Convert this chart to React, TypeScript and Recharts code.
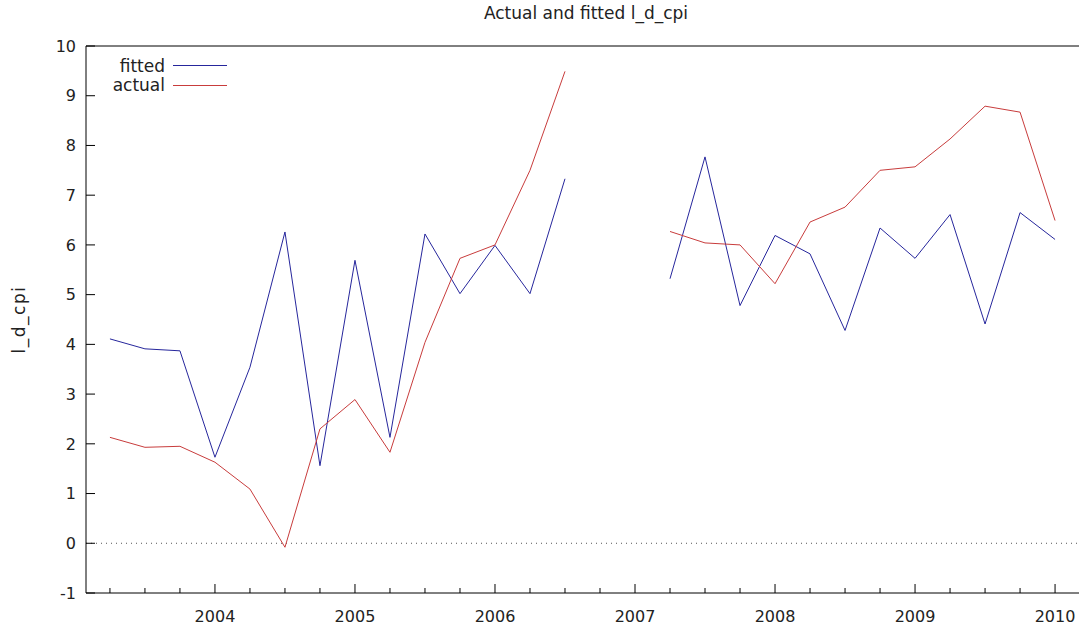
import { LineChart, Line, XAxis, YAxis, ReferenceLine } from 'recharts'

// quarterly observations, plotted at year + (q-1)/4
const dates = [
  2003.25, 2003.5, 2003.75, 2004.0, 2004.25, 2004.5, 2004.75, 2005.0, 2005.25, 2005.5,
  2005.75, 2006.0, 2006.25, 2006.5, 2006.75, 2007.0, 2007.25, 2007.5, 2007.75, 2008.0,
  2008.25, 2008.5, 2008.75, 2009.0, 2009.25, 2009.5, 2009.75, 2010.0,
]
const fitted = [
  4.11, 3.91, 3.87, 1.73, 3.54, 6.26, 1.56, 5.69, 2.13, 6.22,
  5.02, 5.99, 5.02, 7.33, null, null, 5.32, 7.77, 4.78, 6.19,
  5.82, 4.28, 6.34, 5.73, 6.61, 4.41, 6.65, 6.11,
]
const actual = [
  2.13, 1.93, 1.95, 1.63, 1.09, -0.08, 2.3, 2.89, 1.83, 4.04,
  5.73, 6.0, 7.5, 9.49, null, null, 6.27, 6.04, 6.0, 5.22,
  6.46, 6.76, 7.5, 7.57, 8.13, 8.79, 8.67, 6.49,
]
const yTicks = [-1, 0, 1, 2, 3, 4, 5, 6, 7, 8, 9, 10]
const xTicks = dates

const data = dates.map((d, i) => ({ date: d, fitted: fitted[i], actual: actual[i] }))

const FONT = '"DejaVu Sans", sans-serif'
const BLUE = '#26269c'
const RED = '#c83c3c'
const X_DOMAIN = [2003.079, 2010.171]

function XTick({ x, y, payload }: any) {
  const v = payload.value as number
  const major = Math.abs(v - Math.round(v)) < 1e-6
  return (
    <g>
      <line x1={x} x2={x} y1={y} y2={y - (major ? 9 : 5)} stroke="#000" />
      {major && (
        <text x={x} y={y + 29} textAnchor="middle" fontFamily={FONT} fontSize={16} fill="#222">
          {v}
        </text>
      )}
    </g>
  )
}

function YTickLeft({ x, y, payload }: any) {
  return (
    <g>
      <line x1={x} x2={x + 9} y1={y} y2={y} stroke="#000" />
      <text x={x - 10} y={y} dy="0.36em" textAnchor="end" fontFamily={FONT} fontSize={16} fill="#222">
        {payload.value}
      </text>
    </g>
  )
}

function YTickRight({ x, y }: any) {
  return <line x1={x} x2={x - 9} y1={y} y2={y} stroke="#000" />
}

function KeyBox() {
  const rows = [
    { name: 'fitted', color: BLUE },
    { name: 'actual', color: RED },
  ]
  return (
    <div style={{ position: 'absolute', left: 100, top: 56, fontFamily: FONT, fontSize: 17, color: '#222' }}>
      {rows.map((r) => (
        <div key={r.name} style={{ display: 'flex', alignItems: 'center', height: 19.5 }}>
          <span style={{ width: 65, textAlign: 'right' }}>{r.name}</span>
          <span style={{ display: 'inline-block', width: 54, height: 1, background: r.color, marginLeft: 8 }} />
        </div>
      ))}
    </div>
  )
}

export default function App() {
  return (
    <div style={{ position: 'absolute', left: 0, top: 0, width: 1082, height: 630, background: '#fff' }}>
      <div
        style={{
          position: 'absolute', left: 86, width: 1000, top: 3, textAlign: 'center',
          fontFamily: FONT, fontSize: 17, color: '#222',
        }}
      >
        Actual and fitted l_d_cpi
      </div>
      <LineChart width={1082} height={630} data={data} margin={{ top: 46, right: 3, bottom: 7, left: 0 }}>
        <XAxis
          dataKey="date"
          type="number"
          domain={X_DOMAIN}
          allowDataOverflow
          ticks={xTicks}
          interval={0}
          tick={<XTick />}
          tickSize={0}
          tickMargin={0}
          tickLine={false}
          axisLine={{ stroke: '#000' }}
          height={30}
        />
        <YAxis
          yAxisId="left"
          domain={[-1, 10]}
          ticks={yTicks}
          interval={0}
          tick={<YTickLeft />}
          tickSize={0}
          tickMargin={0}
          tickLine={false}
          axisLine={{ stroke: '#000' }}
          width={86}
          label={{
            value: 'l_d_cpi',
            angle: -90,
            position: 'insideLeft',
            offset: 19,
            style: { fontFamily: FONT, fontSize: 17, fill: '#222', textAnchor: 'middle', letterSpacing: 1.5 },
          }}
        />
        <YAxis
          yAxisId="right"
          orientation="right"
          domain={[-1, 10]}
          ticks={yTicks}
          interval={0}
          tick={<YTickRight />}
          tickSize={0}
          tickMargin={0}
          tickLine={false}
          axisLine={{ stroke: '#000' }}
          width={0}
        />
        {/* top edge of the frame */}
        <ReferenceLine yAxisId="left" y={10} stroke="#000" />
        <ReferenceLine yAxisId="left" y={0} stroke="#555" strokeDasharray="1 4" />
        <Line
          yAxisId="left"
          dataKey="fitted"
          stroke={BLUE}
          strokeWidth={1}
          dot={false}
          isAnimationActive={false}
        />
        <Line
          yAxisId="left"
          dataKey="actual"
          stroke={RED}
          strokeWidth={1}
          dot={false}
          isAnimationActive={false}
        />
      </LineChart>
      <KeyBox />
    </div>
  )
}
